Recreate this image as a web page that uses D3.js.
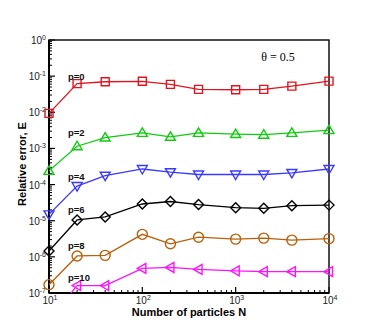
<!DOCTYPE html>
<html>
<head>
<meta charset="utf-8">
<script src="https://cdn.jsdelivr.net/npm/d3@7"></script>
<style>
  body { margin: 0; background: #fff; }
  svg { display: block; font-family: "Liberation Sans", Arial, sans-serif; }
</style>
</head>
<body>
<div id="chart"></div>
<script>
// Particle counts (x) and relative error per expansion order p
const particles = [10, 20, 40, 100, 200, 400, 1000, 2000, 4000, 10000];
const xTicks = [10, 100, 1000, 10000];
const yTicks = [1e-7, 1e-6, 1e-5, 1e-4, 1e-3, 1e-2, 1e-1, 1];

const errP0  = [9.3e-3, 6.2e-2, 7.0e-2, 7.2e-2, 5.9e-2, 4.3e-2, 4.2e-2, 4.3e-2, 5.3e-2, 7.3e-2];
const errP2  = [2.4e-4, 1.15e-3, 2.0e-3, 2.7e-3, 2.1e-3, 2.7e-3, 2.5e-3, 2.4e-3, 2.7e-3, 3.2e-3];
const errP4  = [1.5e-5, 9.1e-5, 1.76e-4, 2.7e-4, 2.2e-4, 1.9e-4, 1.9e-4, 1.9e-4, 2.1e-4, 2.7e-4];
const errP6  = [1.45e-6, 1.05e-5, 1.27e-5, 2.9e-5, 3.4e-5, 2.8e-5, 2.3e-5, 2.2e-5, 2.6e-5, 2.7e-5];
const errP8  = [1.7e-7, 1.06e-6, 1.1e-6, 4.2e-6, 2.3e-6, 3.5e-6, 3.1e-6, 3.3e-6, 2.9e-6, 3.2e-6];
const errP10 = [1.8e-8, 1.6e-7, 1.6e-7, 4.8e-7, 5.1e-7, 4.5e-7, 4.1e-7, 3.9e-7, 3.9e-7, 3.9e-7];

const series = [
  { label: 'p=0',  values: errP0,  color: '#e0141e', symbol: 'square',   labelY: 76 },
  { label: 'p=2',  values: errP2,  color: '#10cc10', symbol: 'triUp',    labelY: 132 },
  { label: 'p=4',  values: errP4,  color: '#3a3aff', symbol: 'triDown',  labelY: 176 },
  { label: 'p=6',  values: errP6,  color: '#000000', symbol: 'diamond',  labelY: 209 },
  { label: 'p=8',  values: errP8,  color: '#b8600a', symbol: 'circle',   labelY: 245 },
  { label: 'p=10', values: errP10, color: '#ff10ff', symbol: 'triLeft',  labelY: 277 }
];

const W = 374, H = 332;
const margin = { top: 40, right: 45, bottom: 39, left: 49 };
const w = W - margin.left - margin.right;
const h = H - margin.top - margin.bottom;

const svg = d3.select('#chart').append('svg').attr('width', W).attr('height', H);
const g = svg.append('g').attr('transform', `translate(${margin.left},${margin.top})`);

const x = d3.scaleLog().domain([10, 10000]).range([0, w]);
const y = d3.scaleLog().domain([1e-7, 1]).range([h, 0]);

svg.append('defs').append('clipPath').attr('id', 'clip')
  .append('rect').attr('x', 0).attr('y', 0).attr('width', w).attr('height', h);

// minor + major ticks (inside)
const minorX = [];
for (let d = 10; d < 10000; d *= 10) for (let k = 2; k <= 9; k++) minorX.push(d * k);
const minorY = [];
for (let d = 1e-7; d < 0.99; d *= 10) for (let k = 2; k <= 9; k++) minorY.push(d * k);

g.selectAll('.mx').data(minorX).join('line')
  .attr('x1', d => x(d)).attr('x2', d => x(d)).attr('y1', h).attr('y2', h - 3)
  .attr('stroke', '#000').attr('stroke-width', 1);
g.selectAll('.Mx').data(xTicks).join('line')
  .attr('x1', d => x(d)).attr('x2', d => x(d)).attr('y1', h).attr('y2', h - 6)
  .attr('stroke', '#000').attr('stroke-width', 1.2);
g.selectAll('.my').data(minorY).join('line')
  .attr('x1', 0).attr('x2', 3).attr('y1', d => y(d)).attr('y2', d => y(d))
  .attr('stroke', '#000').attr('stroke-width', 1);
g.selectAll('.My').data(yTicks).join('line')
  .attr('x1', 0).attr('x2', 6).attr('y1', d => y(d)).attr('y2', d => y(d))
  .attr('stroke', '#000').attr('stroke-width', 1.2);

// tick labels
function powLabel(sel, exp) {
  sel.append('tspan').text('10');
  sel.append('tspan').attr('font-size', 7).attr('dy', -4).text(exp);
}
xTicks.forEach(t => {
  const txt = g.append('text').attr('x', x(t) + 1).attr('y', h + 11)
    .attr('text-anchor', 'middle').attr('font-size', 10).attr('fill', '#222');
  powLabel(txt, Math.round(Math.log10(t)));
});
yTicks.forEach(t => {
  const txt = g.append('text').attr('x', -3).attr('y', y(t) + 4)
    .attr('text-anchor', 'end').attr('font-size', 10).attr('fill', '#222');
  powLabel(txt, Math.round(Math.log10(t)));
});

// frame
g.append('rect').attr('width', w).attr('height', h)
  .attr('fill', 'none').attr('stroke', '#111').attr('stroke-width', 1.5);
g.append('line').attr('x1', 0).attr('x2', w).attr('y1', h).attr('y2', h)
  .attr('stroke', '#000').attr('stroke-width', 2);
g.append('line').attr('x1', 0).attr('x2', 0).attr('y1', 0).attr('y2', h)
  .attr('stroke', '#000').attr('stroke-width', 2);

// series
const line = d3.line().x(d => x(d[0])).y(d => y(d[1]));
const plot = g.append('g').attr('clip-path', 'url(#clip)');

function symbolPath(type) {
  switch (type) {
    case 'square': return 'M-4,-4H4V4H-4Z';
    case 'triUp': return 'M0,-5L5,3.5H-5Z';
    case 'triDown': return 'M0,5L5,-3.5H-5Z';
    case 'triLeft': return 'M-5,0L3.5,-5V5Z';
    case 'diamond': return 'M0,-5L5,0L0,5L-5,0Z';
    default: return null;
  }
}

series.forEach(s => {
  const pts = particles.map((n, i) => [n, s.values[i]]);
  plot.append('path').datum(pts).attr('d', line)
    .attr('fill', 'none').attr('stroke', s.color).attr('stroke-width', 1.3);
  const vis = pts.filter(p => p[1] >= 1e-7);
  const m = g.selectAll(null).data(vis).join(s.symbol === 'circle' ? 'circle' : 'path')
    .attr('fill', 'none').attr('stroke', s.color).attr('stroke-width', 1.4);
  if (s.symbol === 'circle') {
    m.attr('cx', d => x(d[0])).attr('cy', d => y(d[1])).attr('r', 5);
  } else {
    m.attr('d', symbolPath(s.symbol))
      .attr('transform', d => `translate(${x(d[0])},${y(d[1])})`);
  }
  svg.append('text').attr('x', 68).attr('y', s.labelY + 3.5)
    .attr('font-size', 9.5).attr('font-weight', 'bold').attr('fill', '#111')
    .text(s.label);
});

// annotation
svg.append('text').attr('x', 278).attr('y', 61).attr('text-anchor', 'middle')
  .attr('font-family', '"Liberation Serif", "Times New Roman", serif')
  .attr('font-size', 12).text('θ = 0.5');

// axis titles
svg.append('text').attr('x', 189).attr('y', 316).attr('text-anchor', 'middle')
  .attr('font-size', 11).attr('font-weight', 'bold').text('Number of particles N');
svg.append('text').attr('transform', 'translate(26,164) rotate(-90)')
  .attr('text-anchor', 'middle').attr('font-size', 11).attr('font-weight', 'bold')
  .text('Relative error, E');
</script>
</body>
</html>
